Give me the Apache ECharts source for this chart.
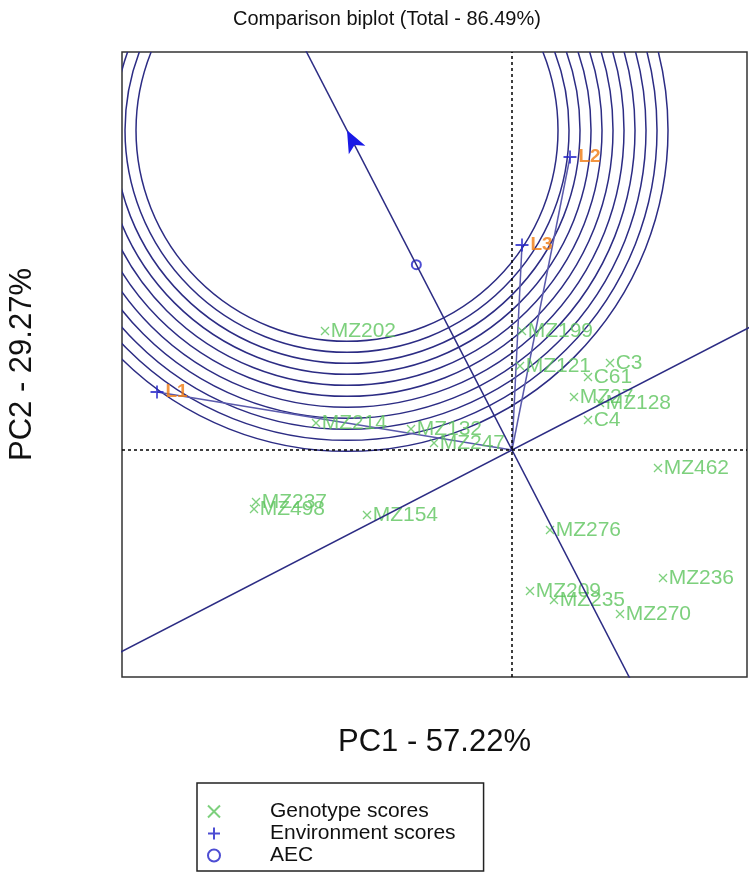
<!DOCTYPE html>
<html>
<head>
<meta charset="utf-8">
<script src="https://cdn.jsdelivr.net/npm/echarts@6/dist/echarts.min.js"></script>
<style>
html,body{margin:0;padding:0;background:#fff;}
#chart{width:750px;height:875px;}
</style>
</head>
<body>
<div id="chart"></div>
<script>
// genotype scores (PC1, PC2)
var genoNames = ['MZ202','MZ199','MZ121','C3','C61','MZ27','MZ128','C4','MZ214','MZ132','MZ247',
                 'MZ462','MZ237','MZ498','MZ154','MZ276','MZ209','MZ235','MZ236','MZ270'];
var genoX = [-1.87, 0.10, 0.08, 0.98, 0.76, 0.62, 0.88, 0.76, -1.96, -1.01, -0.78,
             1.46, -2.56, -2.58, -1.45, 0.38, 0.18, 0.42, 1.51, 1.08];
var genoY = [1.19, 1.19, 0.84, 0.87, 0.73, 0.53, 0.47, 0.30, 0.27, 0.21, 0.07,
             -0.18, -0.52, -0.59, -0.65, -0.80, -1.41, -1.50, -1.28, -1.64];

// environment scores
var envNames = ['L1','L2','L3'];
var envX = [-3.55, 0.58, 0.10];
var envY = [0.58, 2.93, 2.05];

// concentric circles around the ideal genotype
var circleRadii = [2.11, 2.22, 2.33, 2.44, 2.55, 2.66, 2.77, 2.88, 2.99, 3.10, 3.21];

var xRange = [-3.90, 2.35];
var yRange = [-2.27, 3.98];

// average environment coordinate and ideal point
var aecX = (envX[0] + envX[1] + envX[2]) / 3;
var aecY = (envY[0] + envY[1] + envY[2]) / 3;
var aecLen = Math.sqrt(aecX * aecX + aecY * aecY);
var ux = aecX / aecLen, uy = aecY / aecLen;
var maxLen = 0;
for (var i = 0; i < envX.length; i++) {
    maxLen = Math.max(maxLen, Math.sqrt(envX[i] * envX[i] + envY[i] * envY[i]));
}
var idealX = ux * maxLen, idealY = uy * maxLen;

var FONT = 'Liberation Sans';
var GREEN = '#5cc45c';
var NAVY = '#2c2c84';

var chart = echarts.init(document.getElementById('chart'));

var option = {
    backgroundColor: '#fff',
    animation: false,
    title: {
        text: 'Comparison biplot (Total - 86.49%)',
        left: 228,
        top: 4,
        textStyle: {fontFamily: FONT, fontSize: 20, fontWeight: 'normal', color: '#111'}
    },
    legend: {
        orient: 'vertical',
        left: 197,
        top: 783,
        padding: [18, 28, 5, 10],
        borderColor: '#222',
        borderWidth: 1.5,
        itemGap: 1,
        itemWidth: 12,
        itemHeight: 12,
        textStyle: {fontFamily: FONT, fontSize: 21, color: '#111', padding: [0, 0, 0, 45]},
        data: ['Genotype scores', 'Environment scores', 'AEC']
    },
    grid: {
        left: 122, top: 52, width: 625, height: 625,
        outerBoundsMode: 'none',
        containLabel: false,
        show: true, borderColor: '#333', borderWidth: 1.5, backgroundColor: 'transparent'
    },
    xAxis: {
        type: 'value', min: xRange[0], max: xRange[1],
        name: 'PC1 - 57.22%', nameLocation: 'middle', nameGap: 50,
        nameTextStyle: {fontFamily: FONT, fontSize: 31, color: '#111'},
        axisLine: {show: false}, axisTick: {show: false}, axisLabel: {show: false}, splitLine: {show: false}
    },
    yAxis: {
        type: 'value', min: yRange[0], max: yRange[1],
        name: 'PC2 - 29.27%', nameLocation: 'middle', nameGap: 84,
        nameTextStyle: {fontFamily: FONT, fontSize: 31, color: '#111'},
        axisLine: {show: false}, axisTick: {show: false}, axisLabel: {show: false}, splitLine: {show: false}
    },
    series: [
        {
            type: 'custom',
            name: 'circles',
            silent: true,
            data: circleRadii.map(function (r) { return [idealX, idealY, r]; }),
            renderItem: function (params, api) {
                var c = api.coord([api.value(0), api.value(1)]);
                var r = api.size([api.value(2), 0])[0];
                var cs = params.coordSys;
                return {
                    type: 'circle',
                    shape: {cx: c[0], cy: c[1], r: r},
                    style: {fill: 'none', stroke: NAVY, lineWidth: 1.5},
                    clipPath: {type: 'rect', shape: {x: cs.x, y: cs.y, width: cs.width, height: cs.height}}
                };
            }
        },
        {
            // AEC axis through origin
            type: 'line', name: 'aecAxis', silent: true, symbol: 'none',
            data: [[-10 * ux, -10 * uy], [10 * ux, 10 * uy]],
            lineStyle: {color: NAVY, width: 1.5},
            markLine: {
                silent: true,
                symbol: ['none', 'arrow'],
                symbolSize: [14, 22],
                label: {show: false},
                lineStyle: {color: '#1a1ae6', width: 0.01, type: 'solid'},
                itemStyle: {color: '#1a1ae6'},
                data: [[{coord: [0, 0]}, {coord: [idealX, idealY]}]]
            }
        },
        {
            // line perpendicular to AEC through origin
            type: 'line', name: 'perp', silent: true, symbol: 'none',
            data: [[-10 * uy, 10 * ux], [10 * uy, -10 * ux]],
            lineStyle: {color: NAVY, width: 1.5},
            markLine: {
                silent: true, symbol: 'none', label: {show: false},
                lineStyle: {color: '#000', width: 1.5, type: [3, 3]},
                data: [{xAxis: 0}, {yAxis: 0}]
            }
        },
        {
            type: 'lines', name: 'envVectors', coordinateSystem: 'cartesian2d', silent: true,
            lineStyle: {color: '#5a5aac', width: 1.5, opacity: 1},
            data: envNames.map(function (n, i) {
                return {coords: [[0, 0], [envX[i], envY[i]]]};
            })
        },
        {
            type: 'scatter', name: 'Genotype scores',
            symbol: 'path://M0,0L10,10M10,0L0,10',
            symbolSize: 8,
            itemStyle: {color: 'transparent', borderColor: GREEN, borderWidth: 1.3},
            label: {
                show: true, position: 'right', distance: 1,
                formatter: '{b}', color: GREEN, fontFamily: FONT, fontSize: 21
            },
            data: genoNames.map(function (n, i) { return {name: n, value: [genoX[i], genoY[i]]}; })
        },
        {
            type: 'scatter', name: 'Environment scores',
            symbol: 'path://M5,0L5,10M0,5L10,5',
            symbolSize: 13,
            itemStyle: {color: 'transparent', borderColor: '#2020c8', borderWidth: 1.8},
            label: {
                show: true, position: 'right', distance: 1,
                formatter: '{b}', color: '#f07a10', fontFamily: FONT, fontSize: 19, fontWeight: 'bold'
            },
            data: envNames.map(function (n, i) { return {name: n, value: [envX[i], envY[i]]}; })
        },
        {
            type: 'scatter', name: 'AEC',
            symbol: 'emptyCircle', symbolSize: 9,
            itemStyle: {color: '#2020c8', borderColor: '#2020c8', borderWidth: 1.3},
            data: [[aecX, aecY]]
        }
    ]
};

chart.setOption(option);
</script>
</body>
</html>
